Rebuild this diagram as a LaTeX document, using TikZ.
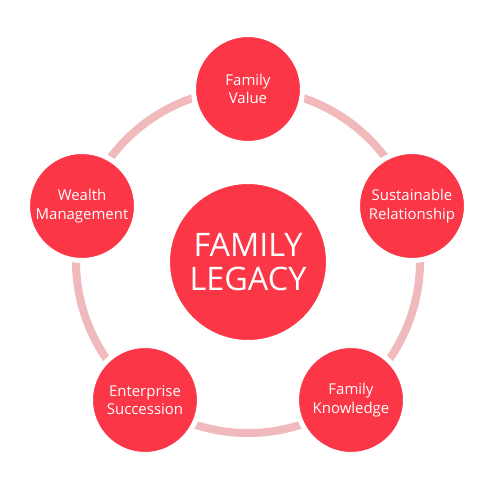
\documentclass[tikz,border=0pt]{standalone}
\usepackage{fontspec}
\setmainfont{Open Sans}
\usepackage{tikz}
\definecolor{legacyred}{RGB}{251,54,70}
\definecolor{ringpink}{RGB}{240,185,188}

\begin{document}
\begin{tikzpicture}[x=1bp,y=-1bp]
\tikzstyle{every node}+=[inner sep=0pt]
\tikzstyle{bigball}=[circle,fill=legacyred,draw=white,line width=5bp,minimum size=161bp,text=white,align=center,font=\fontsize{32.5}{34}\selectfont]
\tikzstyle{ball}=[circle,fill=legacyred,draw=white,line width=5bp,minimum size=109bp,text=white,align=center,font=\fontsize{15}{18.5}\selectfont]
\useasboundingbox (0,0) rectangle (496,496);
\coordinate (hub) at (248,261);
\draw [ringpink,line width=8bp] (hub) circle (172bp);
\node [bigball] (legacy) at (248,262) {FAMILY\\LEGACY};
\node [ball] (value) at (248,89) {Family\\Value};
\node [ball] (relation) at (412,206) {Sustainable\\Relationship};
\node [ball] (knowledge) at (351,400) {Family\\Knowledge};
\node [ball] (succession) at (145,400) {Enterprise\\Succession};
\node [ball] (wealth) at (82,206) {Wealth\\Management};
\end{tikzpicture}
\end{document}
